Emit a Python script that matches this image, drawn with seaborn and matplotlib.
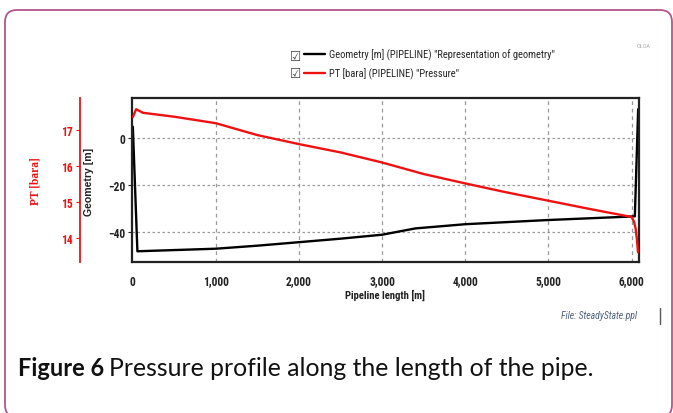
import pandas as pd
import matplotlib.pyplot as plt
import seaborn as sns
from matplotlib.patches import FancyBboxPatch
from matplotlib.lines import Line2D
from matplotlib.ticker import FuncFormatter

# Geometry profile (elevation along the pipeline)
geom_length = [0, 55, 1000, 1500, 2000, 2500, 3000, 3400, 4000, 5000, 6000, 6040, 6080]
geom_value = [5, -48.4, -47.3, -46, -44.5, -43, -41.3, -38.6, -36.8, -35, -33.5, -33.4, 12.5]

# Pressure profile
pt_length = [0, 40, 120, 500, 1000, 1500, 2000, 2500, 3000, 3500, 4000, 4500,
             5000, 5500, 6000, 6030, 6050, 6065, 6078]
pt_value = [17.35, 17.57, 17.47, 17.36, 17.18, 16.85, 16.6, 16.37, 16.09, 15.77,
            15.51, 15.26, 15.03, 14.8, 14.58, 14.45, 14.25, 13.95, 13.6]

x_ticks = [0, 1000, 2000, 3000, 4000, 5000, 6000]
geom_ticks = [0, -20, -40]
pt_ticks = [14, 15, 16, 17]

legend_labels = ['Geometry [m] (PIPELINE) "Representation of geometry"',
                 'PT [bara] (PIPELINE) "Pressure"']

sns.set_style("white")
plt.rcParams["font.family"] = ["Roboto Condensed", "DejaVu Sans"]
plt.rcParams["font.stretch"] = "condensed"

W, H = 673, 414
fig = plt.figure(figsize=(W / 100, H / 100), dpi=100)

def fx(px):
    return px / W

def fy(py):
    return 1 - py / H

# Outer rounded frame (drawn in inches so the corner radius stays round)
frame = FancyBboxPatch((0.05, -0.04), 6.67, 4.14 - 0.11 + 0.04,
                       boxstyle="round,pad=0,rounding_size=0.12",
                       transform=fig.dpi_scale_trans, fill=False,
                       edgecolor="#b4558a", linewidth=1.3)
fig.patches.append(frame)

ax = fig.add_axes([fx(132), fy(263), (639 - 132) / W, (263 - 99) / H])

df_geom = pd.DataFrame({"length": geom_length, "value": geom_value})
df_pt = pd.DataFrame({"length": pt_length, "value": pt_value})

sns.lineplot(data=df_geom, x="length", y="value", ax=ax, color="black",
             linewidth=1.7, sort=False, estimator=None, label=legend_labels[0])
ax.set_xlim(-10, 6090)
ax.set_ylim(-53, 17.3)

ax2 = ax.twinx()
sns.lineplot(data=df_pt, x="length", y="value", ax=ax2, color="#ee1111",
             linewidth=1.7, sort=False, estimator=None, label=legend_labels[1])
ax2.set_ylim(13.33, 17.88)
ax2.set_xlim(-10, 6090)

# legend drawn at figure level
h1, l1 = ax.get_legend_handles_labels()
h2, l2 = ax2.get_legend_handles_labels()
ax.get_legend().remove()
ax2.get_legend().remove()
fig.legend(h1 + h2, l1 + l2, loc="upper left", bbox_to_anchor=(fx(304), fy(50)),
           frameon=False, handlelength=2.0, handletextpad=0.4, labelspacing=0.7,
           prop={"size": 7.6}, borderaxespad=0, borderpad=0)
for yy in (57, 74):
    fig.text(fx(296), fy(yy), "\u2611", family="DejaVu Sans", fontsize=10,
             color="#444444", ha="center", va="center")

# main axes styling
ax.set_xticks(x_ticks)
ax.set_yticks(geom_ticks)
ax.xaxis.set_major_formatter(FuncFormatter(lambda v, p: f"{int(v):,}"))
ax.grid(False)
for xt in x_ticks[1:]:
    ax.axvline(xt, color="#9a9a9a", linewidth=0.9, linestyle=(0, (3, 3)), zorder=0)
for yt in geom_ticks:
    ax.axhline(yt, color="#9a9a9a", linewidth=0.9, linestyle=(0, (2, 2)), zorder=0)
for s in ax.spines.values():
    s.set_color("#222222")
    s.set_linewidth(1.6)
ax.tick_params(axis="both", length=3, width=0.8, labelsize=8.3, pad=2, colors="#222222")
for t in ax.get_xticklabels() + ax.get_yticklabels():
    t.set_fontweight("bold")
ax.tick_params(axis="x", pad=6)
ax.set_xlabel("")
ax.set_ylabel("")

# secondary pressure axis on the left, offset outward
ax2.yaxis.set_ticks_position("left")
ax2.yaxis.set_label_position("left")
ax2.spines["left"].set_position(("outward", 37.4))
ax2.spines["left"].set_color("#ee1111")
ax2.spines["left"].set_linewidth(1.3)
for side in ("right", "top", "bottom"):
    ax2.spines[side].set_visible(False)
ax2.set_yticks(pt_ticks)
ax2.tick_params(axis="y", colors="#ee1111", length=3, width=0.8, labelsize=8.3, pad=2)
for t in ax2.get_yticklabels():
    t.set_fontweight("bold")
ax2.set_ylabel("")

# axis labels
fig.text(fx(35), fy(181), "PT [bara]", rotation=90, color="#ee1111",
         fontweight="bold", fontsize=8.3, family=["Liberation Serif", "DejaVu Serif"],
         stretch="normal", ha="center", va="center")
fig.text(fx(89), fy(182), "Geometry [m]", rotation=90, color="#222222",
         fontweight="bold", fontsize=7.6, family=["Liberation Sans", "DejaVu Sans"],
         stretch="normal", ha="center", va="center")
fig.text(fx(385), fy(295), "Pipeline length [m]", color="#222222",
         fontweight="bold", fontsize=7.7, ha="center", va="center")

# small annotations
fig.text(fx(644), fy(46), "OLGA", color="#b0b0b0", fontsize=4.5,
         ha="center", va="center")
fig.text(fx(599), fy(316), "File: SteadyState.ppl", color="#4f6080",
         fontsize=7, style="italic", ha="center", va="center")
fig.add_artist(Line2D([fx(660), fx(660)], [fy(309), fy(325)],
                      transform=fig.transFigure, color="#555555", linewidth=1))

# caption
cap_font = ["Lato", "DejaVu Sans"]
t1 = fig.text(fx(18), fy(369), "Figure 6", fontsize=17, fontweight="bold",
              family=cap_font, stretch="normal", color="#111111", ha="left", va="center")
renderer = fig.canvas.get_renderer()
bb = t1.get_window_extent(renderer=renderer)
fig.text(bb.x1 / W + fx(5), fy(369), "Pressure profile along the length of the pipe.",
         fontsize=17.8, family=cap_font, stretch="normal", color="#111111",
         ha="left", va="center")

fig.savefig("out.png", dpi=100)
